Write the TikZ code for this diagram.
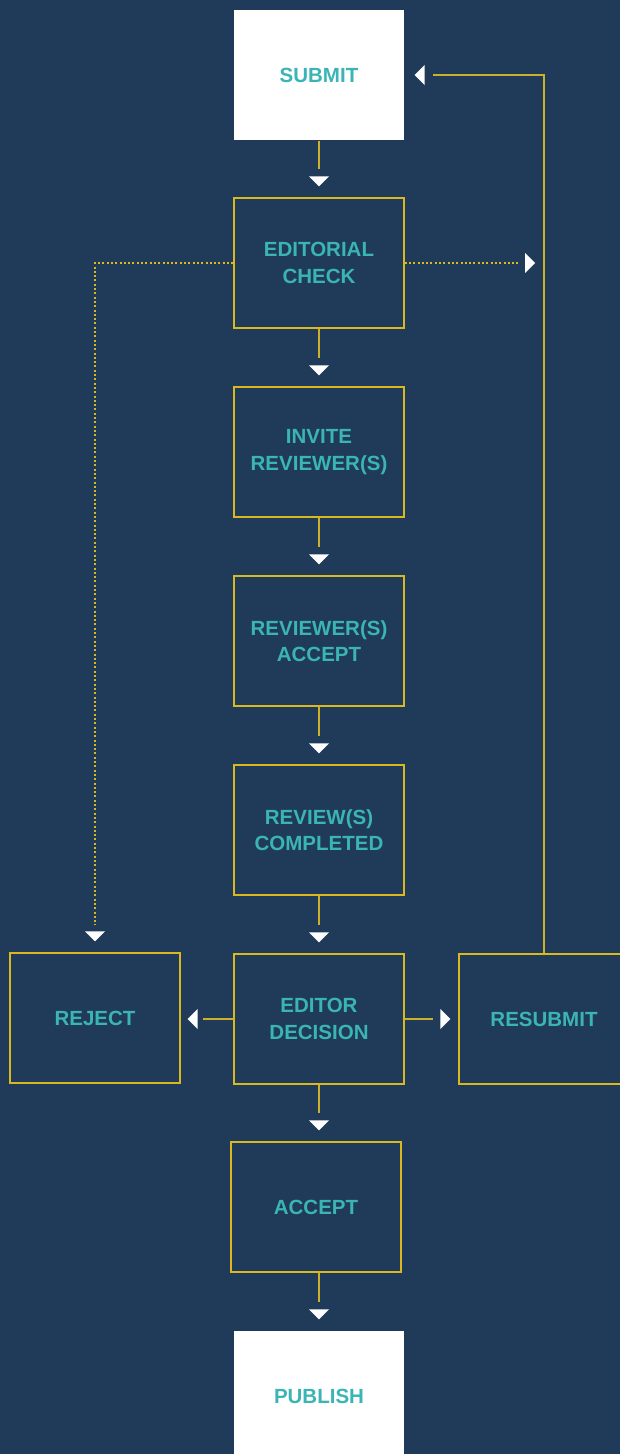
\documentclass[tikz,border=0pt]{standalone}
\usepackage{fontspec}
\setmainfont{Liberation Sans}
\usetikzlibrary{calc}
\definecolor{bgblue}{HTML}{1F3B59}
\definecolor{gold}{HTML}{D9B91F}
\definecolor{linegold}{HTML}{CDB02A}
\definecolor{tealtxt}{HTML}{3BB4B6}
\begin{document}
\begin{tikzpicture}[x=1pt,y=-1pt,
  box/.style={draw=gold,line width=1.3pt,minimum width=170pt,minimum height=130pt,
    inner sep=0pt,align=center,text=tealtxt,
    font=\bfseries\fontsize{20.5}{26.5}\selectfont},
  endbox/.style={box,draw=none,fill=white},
  conn/.style={draw=linegold,line width=1.4pt},
  dots/.style={draw=gold,line width=1.7pt,dash pattern=on 2pt off 2.3pt},
  tipD/.pic={\fill[white] (0,0) -- (-10,-10) -- (10,-10) -- cycle;},
  tipR/.pic={\fill[white] (0,0) -- (-10,-10) -- (-10,10) -- cycle;},
  tipL/.pic={\fill[white] (0,0) -- (10,-10) -- (10,10) -- cycle;},
]
\fill[bgblue] (0,0) rectangle (620,1454);
\useasboundingbox (0,0) rectangle (620,1454);
\clip (0,0) rectangle (620,1454);

\node[endbox] (submit) at (319,75) {SUBMIT};
\node[box] (check) at (319,263) {EDITORIAL\\CHECK};
\node[box] (invite) at (319,452) {INVITE\\REVIEWER(S)};
\node[box] (raccept) at (319,641) {REVIEWER(S)\\ACCEPT};
\node[box] (done) at (319,830) {REVIEW(S)\\COMPLETED};
\node[box] (decision) at (319,1019) {EDITOR\\DECISION};
\node[box] (reject) at (95,1018) {REJECT};
\node[box] (resubmit) at (544,1019) {RESUBMIT};
\node[box] (accept) at (316,1207) {ACCEPT};
\node[endbox] (publish) at (319,1396) {PUBLISH};

\foreach \a/\b in {submit/check,check/invite,invite/raccept,raccept/done,done/decision,decision/accept,accept/publish}{
  \draw[conn] (\a.south -| decision.south) -- ($(decision.south |- \b.north)+(0,-28)$);
  \pic at ($(decision.south |- \b.north)+(0,-11)$) {tipD};
}

% editorial check -> reject (dotted)
\draw[dots] (check.west) -- (reject.north |- check.west) -- ($(reject.north)+(0,-27)$);
\pic at ($(reject.north)+(0,-11)$) {tipD};

% editorial check -> resubmit line (dotted)
\draw[dots] (check.east) -- ($(resubmit.north |- check.east)+(-25,0)$);
\pic at ($(resubmit.north |- check.east)+(-9,0)$) {tipR};

% resubmit -> submit
\draw[conn] (resubmit.north) -- (resubmit.north |- submit.east) -- ($(submit.east)+(28,0)$);
\pic at ($(submit.east)+(10,0)$) {tipL};

% decision -> reject
\draw[conn] (decision.west) -- ($(reject.east |- decision.west)+(22,0)$);
\pic at ($(reject.east |- decision.west)+(7,0)$) {tipL};

% decision -> resubmit
\draw[conn] (decision.east) -- ($(resubmit.west)+(-25,0)$);
\pic at ($(resubmit.west)+(-8,0)$) {tipR};
\end{tikzpicture}
\end{document}
